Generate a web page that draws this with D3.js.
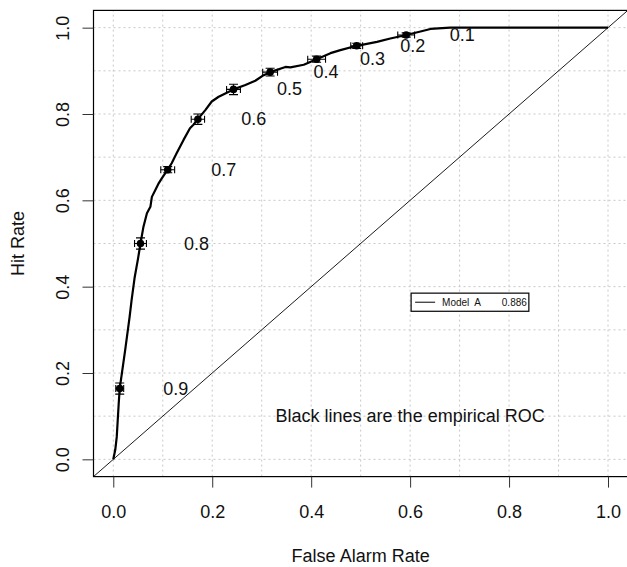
<!DOCTYPE html>
<html>
<head>
<meta charset="utf-8">
<script src="https://cdn.jsdelivr.net/npm/d3@7"></script>
<style>
  html, body { margin: 0; padding: 0; background: #fff; }
  svg { display: block; }
  text { font-family: "Liberation Sans", Arial, sans-serif; fill: #111; }
</style>
</head>
<body>
<svg id="chart" width="627" height="567"></svg>
<script>
// ---- data ----
const curveFAR = [0.000, 0.004, 0.007, 0.009, 0.011, 0.013, 0.024, 0.033, 0.037, 0.043, 0.050, 0.055,
  0.061, 0.068, 0.075, 0.078, 0.085, 0.092, 0.098, 0.110, 0.118, 0.128, 0.142, 0.155, 0.162, 0.171,
  0.186, 0.199, 0.213, 0.243, 0.267, 0.287, 0.304, 0.317, 0.348, 0.358, 0.385, 0.411, 0.439, 0.459,
  0.492, 0.533, 0.560, 0.592, 0.621, 0.641, 0.681, 1.000];
const curveHR = [0.000, 0.022, 0.052, 0.091, 0.130, 0.164, 0.253, 0.330, 0.369, 0.420, 0.465, 0.500,
  0.539, 0.570, 0.585, 0.608, 0.624, 0.640, 0.651, 0.671, 0.686, 0.709, 0.740, 0.767, 0.775, 0.788,
  0.809, 0.829, 0.840, 0.857, 0.867, 0.877, 0.890, 0.897, 0.909, 0.908, 0.914, 0.927, 0.941, 0.948,
  0.958, 0.967, 0.975, 0.983, 0.991, 0.997, 1.000, 1.000];

const thresholds = ["0.9", "0.8", "0.7", "0.6", "0.5", "0.4", "0.3", "0.2", "0.1"];
const pointFAR = [0.013, 0.055, 0.110, 0.171, 0.243, 0.317, 0.411, 0.492, 0.592];
const pointHR  = [0.164, 0.500, 0.671, 0.788, 0.857, 0.897, 0.927, 0.958, 0.983];
const errFAR   = [0.008, 0.012, 0.014, 0.0135, 0.014, 0.015, 0.018, 0.012, 0.017];
const errHR    = [0.013, 0.013, 0.007, 0.012, 0.012, 0.009, 0.007, 0.006, 0.005];

const axisTicks = [0.0, 0.2, 0.4, 0.6, 0.8, 1.0];
const gridTicks = [0.0, 0.1, 0.2, 0.3, 0.4, 0.5, 0.6, 0.7, 0.8, 0.9, 1.0];
const legendModel = "Model  A";
const legendArea = "0.886";
const note = "Black lines are the empirical ROC";
const xTitle = "False Alarm Rate";
const yTitle = "Hit Rate";

// ---- layout ----
const svg = d3.select("#chart");
const x = d3.scaleLinear().domain([-0.04, 1.04]).range([93.5, 627.8]);
const y = d3.scaleLinear().domain([-0.04, 1.04]).range([476.6, 10.4]);
const FONT = 18;

const defs = svg.append("defs");
defs.append("clipPath").attr("id", "plotclip").append("rect")
  .attr("x", x(-0.04)).attr("y", y(1.04))
  .attr("width", x(1.04) - x(-0.04)).attr("height", y(-0.04) - y(1.04));

const plot = svg.append("g").attr("clip-path", "url(#plotclip)");

// grid
plot.selectAll("line.vg").data(gridTicks).join("line")
  .attr("x1", d => x(d)).attr("x2", d => x(d))
  .attr("y1", y(-0.04)).attr("y2", y(1.04))
  .attr("stroke", "#c8c8c8").attr("stroke-width", 1).attr("stroke-dasharray", "2,3");
plot.selectAll("line.hg").data(gridTicks).join("line")
  .attr("y1", d => y(d)).attr("y2", d => y(d))
  .attr("x1", x(-0.04)).attr("x2", x(1.04))
  .attr("stroke", "#c8c8c8").attr("stroke-width", 1).attr("stroke-dasharray", "2,3");

// diagonal
plot.append("line")
  .attr("x1", x(-0.04)).attr("y1", y(-0.04)).attr("x2", x(1.04)).attr("y2", y(1.04))
  .attr("stroke", "#000").attr("stroke-width", 0.9);

// empirical ROC
const line = d3.line().x(d => x(d[0])).y(d => y(d[1]));
plot.append("path")
  .datum(curveFAR.map((v, i) => [v, curveHR[i]]))
  .attr("d", line).attr("fill", "none").attr("stroke", "#000")
  .attr("stroke-width", 2.2).attr("stroke-linejoin", "round");

// error bars and points
const pts = pointFAR.map((v, i) => ({ fx: v, hy: pointHR[i], ex: errFAR[i], ey: errHR[i], lab: thresholds[i] }));
const eb = plot.append("g").attr("stroke", "#000").attr("stroke-width", 1.1);
pts.forEach(p => {
  const cx = x(p.fx), cy = y(p.hy);
  const xl = x(p.fx - p.ex), xr = x(p.fx + p.ex);
  const yt = y(p.hy + p.ey), yb = y(p.hy - p.ey);
  eb.append("line").attr("x1", xl).attr("x2", xr).attr("y1", cy).attr("y2", cy);
  eb.append("line").attr("x1", xl).attr("x2", xl).attr("y1", cy - 3.5).attr("y2", cy + 3.5);
  eb.append("line").attr("x1", xr).attr("x2", xr).attr("y1", cy - 3.5).attr("y2", cy + 3.5);
  eb.append("line").attr("x1", cx).attr("x2", cx).attr("y1", yt).attr("y2", yb);
  eb.append("line").attr("x1", cx - 4.5).attr("x2", cx + 4.5).attr("y1", yt).attr("y2", yt);
  eb.append("line").attr("x1", cx - 4.5).attr("x2", cx + 4.5).attr("y1", yb).attr("y2", yb);
});
plot.selectAll("circle.pt").data(pts).join("circle")
  .attr("cx", d => x(d.fx)).attr("cy", d => y(d.hy)).attr("r", 3.8).attr("fill", "#000");

// threshold labels (offset right of each point)
const LABEL_DX = 56;
svg.selectAll("text.thr").data(pts).join("text")
  .attr("x", d => x(d.fx) + LABEL_DX).attr("y", d => y(d.hy))
  .attr("text-anchor", "middle").attr("dominant-baseline", "central")
  .attr("font-size", FONT).text(d => d.lab);

// note text
svg.append("text")
  .attr("x", x(0.6)).attr("y", y(0.1))
  .attr("text-anchor", "middle").attr("dominant-baseline", "central")
  .attr("font-size", FONT).text(note);

// legend
const lx0 = x(0.602), lx1 = x(0.840), ly0 = y(0.385), ly1 = y(0.343);
svg.append("rect").attr("x", lx0).attr("y", ly0).attr("width", lx1 - lx0).attr("height", ly1 - ly0)
  .attr("fill", "#fff").attr("stroke", "#000").attr("stroke-width", 1.2);
const lyc = (ly0 + ly1) / 2;
svg.append("line").attr("x1", lx0 + 4).attr("x2", lx0 + 24).attr("y1", lyc).attr("y2", lyc)
  .attr("stroke", "#000").attr("stroke-width", 1);
svg.append("text").attr("x", lx0 + 31).attr("y", lyc).attr("dominant-baseline", "central")
  .attr("font-size", 10).attr("xml:space", "preserve").style("white-space", "pre").text(legendModel);
svg.append("text").attr("x", lx1 - 2).attr("y", lyc).attr("dominant-baseline", "central")
  .attr("text-anchor", "end").attr("font-size", 10).text(legendArea);

// box
svg.append("rect")
  .attr("x", x(-0.04)).attr("y", y(1.04))
  .attr("width", x(1.04) - x(-0.04)).attr("height", y(-0.04) - y(1.04))
  .attr("fill", "none").attr("stroke", "#000").attr("stroke-width", 1.2);

// axes
const fmt = d3.format(".1f");
const xAxis = svg.append("g").attr("transform", `translate(0,${y(-0.04)})`)
  .call(d3.axisBottom(x).tickValues(axisTicks).tickFormat(fmt).tickSize(11).tickPadding(18));
xAxis.select(".domain").remove();
xAxis.selectAll("text").attr("font-size", FONT).attr("font-family", "Liberation Sans, Arial, sans-serif").attr("fill", "#111");
xAxis.selectAll("line").attr("stroke", "#333");

const yAxis = svg.append("g").attr("transform", `translate(${x(-0.04)},0)`)
  .call(d3.axisLeft(y).tickValues(axisTicks).tickFormat(fmt).tickSize(11).tickPadding(0));
yAxis.select(".domain").remove();
yAxis.selectAll("line").attr("stroke", "#333");
yAxis.selectAll("text")
  .attr("font-size", FONT).attr("font-family", "Liberation Sans, Arial, sans-serif").attr("fill", "#111")
  .attr("x", null).attr("dy", null)
  .attr("text-anchor", "middle").attr("dominant-baseline", "central")
  .attr("transform", "translate(-31,0) rotate(-90)");

// titles
svg.append("text").attr("x", (x(-0.04) + x(1.04)) / 2).attr("y", 556)
  .attr("text-anchor", "middle").attr("dominant-baseline", "central")
  .attr("font-size", FONT).text(xTitle);
svg.append("text")
  .attr("transform", `translate(18,${(y(-0.04) + y(1.04)) / 2}) rotate(-90)`)
  .attr("text-anchor", "middle").attr("dominant-baseline", "central")
  .attr("font-size", FONT).text(yTitle);
</script>
</body>
</html>
